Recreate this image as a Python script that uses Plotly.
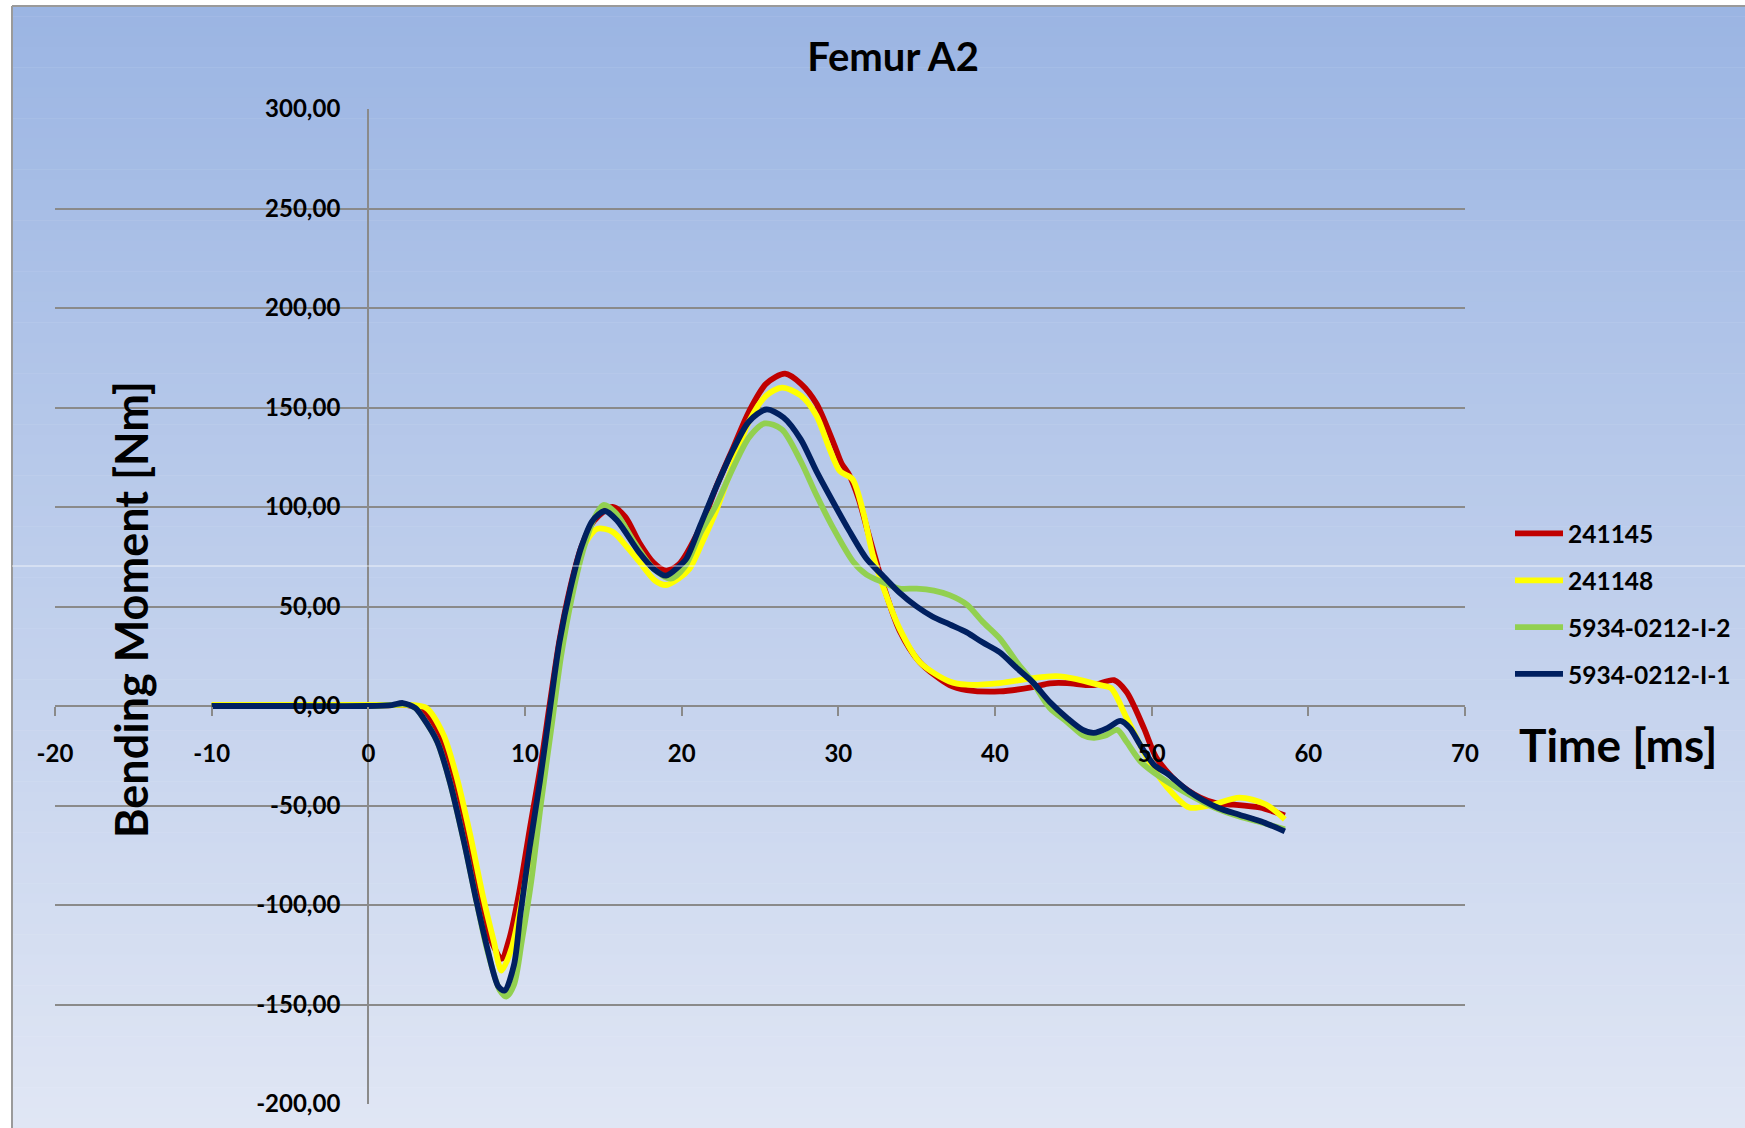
import plotly.graph_objects as go

# ---------------- data ----------------
series_names = ["241145", "241148", "5934-0212-I-2", "5934-0212-I-1"]
series_colors = ["#C00000", "#FFFF00", "#92D050", "#002060"]

t_241145 = [-10, -5, 0, 1.5, 2.5, 3.5, 4.6, 5.4, 6.3, 7.1, 7.8, 8.5, 9.0, 9.6, 10.3, 11.0, 11.6,
            12.2, 12.9, 13.6, 14.4, 15.6, 16.4, 17.3, 18.2, 19.0, 19.8, 21.2, 22.2, 23.3, 24.3,
            25.4, 26.6, 27.6, 28.6, 29.7, 30.2, 30.7, 31.3, 31.8, 32.3, 32.9, 33.9, 35.2, 37.1,
            38.2, 40.3, 42.4, 43.5, 44.6, 46.3, 47.6, 48.4, 49.5, 50.3, 51.6, 53.1, 54.2, 55.2,
            56.9, 58.5]
m_241145 = [0, 0, 0, 0.5, 0.5, -2, -15, -35, -66, -97, -117, -127, -117, -95, -62, -30, 2,
            33, 60, 80, 93, 100, 95, 82, 72, 68, 71, 90, 110, 130, 148,
            162, 167, 162, 152, 132, 122, 116, 104, 90, 76, 60, 38, 22, 10.5,
            8, 7.3, 9.5, 11.4, 11.5, 10.5, 13, 7, -11, -26, -38, -46, -49, -49.5,
            -51, -55]

t_241148 = [-10, -5, 0, 1.5, 2.7, 3.7, 4.8, 5.6, 6.5, 7.3, 8.0, 8.5, 9.15, 9.9, 10.7, 11.4,
            12.1, 12.8, 13.6, 14.6, 15.6, 16.5, 17.3, 18.3, 19.0, 19.8, 20.5, 21.3, 22.2, 23.3,
            24.3, 25.4, 26.4, 27.6, 28.6, 29.4, 30.1, 30.9, 31.6, 32.2, 32.9, 33.9, 35.2, 37.1,
            38.2, 40.3, 42.4, 43.9, 45.2, 46.7, 47.4, 48.4, 49.7, 51.0, 52.4, 53.7, 55.6, 57.3,
            58.5]
m_241148 = [0.5, 0.5, 0.5, 0.5, 0.5, -1, -14.5, -34.6, -64.7, -95, -118, -133, -121.5, -93, -54.6, -15,
            22, 52, 78, 89, 87.5, 80, 72.5, 63, 60.8, 64, 69, 82, 98, 122,
            143, 156, 160, 156, 146, 130, 118, 114, 97, 76, 59, 39, 22, 12.3,
            10.7, 11.5, 14, 15, 13.5, 10.5, 9, -6, -26, -41, -51, -50, -46, -49.5,
            -57]

t_5934_I2 = [-10, -5, 0, 1.5, 2.3, 3.0, 3.5, 4.4, 5.2, 6.1, 6.9, 7.6, 8.4, 8.8, 9.3, 9.8, 10.4,
             11.0, 11.7, 12.3, 13.0, 13.7, 14.4, 15.0, 15.8, 17.0, 18.2, 19.3, 20.2, 21.2, 22.2,
             23.3, 24.3, 25.3, 26.4, 27.6, 28.6, 29.7, 30.95, 31.8, 32.9, 33.9, 35.0, 36.1, 37.1,
             38.2, 39.2, 40.3, 41.4, 42.4, 43.5, 44.6, 45.6, 46.3, 47.0, 47.8, 48.4, 49.3, 50.6,
             52.4, 54.0, 55.6, 57.0, 58.5]
m_5934_I2 = [0, 0, 0, 0.5, 1, -1, -6, -18, -38, -68, -98, -123, -143, -146, -140, -118, -88,
             -50, -10, 25, 55, 78, 94, 101, 97, 82, 69, 64, 70, 87, 101,
             120, 135, 142, 139, 123, 106, 89, 72.5, 66, 62, 59, 59, 58, 55.7,
             51, 42.4, 34, 22, 12, -1, -8, -14.6, -16, -15, -12, -18, -28, -36,
             -44.6, -51, -55.5, -58.5, -62]

t_5934_I1 = [-10, -5, 0, 1.5, 2.2, 3.0, 3.5, 4.4, 5.2, 6.1, 6.9, 7.6, 8.3, 8.7, 9.3, 9.7, 10.3,
             10.95, 11.6, 12.2, 12.9, 13.6, 14.3, 15.1, 15.9, 17.3, 18.2, 19.0, 19.8, 20.3, 21.2,
             22.2, 23.3, 24.3, 25.4, 26.5, 27.6, 28.6, 29.7, 30.7, 31.8, 32.9, 33.9, 35.0, 36.0,
             37.1, 38.2, 39.2, 40.3, 41.4, 42.4, 43.5, 44.6, 45.6, 46.3, 47.2, 48.0, 48.6, 49.3,
             50.2, 51.0, 52.4, 54.2, 55.6, 57.0, 58.5]
m_5934_I1 = [0, 0, 0, 0.5, 1.5, -1, -6, -18, -38, -68, -98, -122, -141, -143, -130, -105, -71,
             -38, -1, 32, 59, 80, 93, 98, 93, 77, 69, 65.5, 70, 74, 91,
             110, 129, 143, 149, 145, 134, 118, 102, 88, 74, 65, 57, 50, 45,
             41, 37, 32, 27, 19, 12, 2, -6, -12, -13.5, -11, -7.5, -11, -20,
             -30, -34, -43, -51, -54.6, -58, -63]

x_tick_vals = [-20, -10, 0, 10, 20, 30, 40, 50, 60, 70]
x_tick_text = ["-20", "-10", "0", "10", "20", "30", "40", "50", "60", "70"]
y_tick_vals = [-200, -150, -100, -50, 0, 50, 100, 150, 200, 250, 300]
y_tick_text = ["-200,00", "-150,00", "-100,00", "-50,00", "0,00", "50,00",
               "100,00", "150,00", "200,00", "250,00", "300,00"]

title_text = "Femur A2"
y_title = "Bending Moment [Nm]"
x_title = "Time [ms]"

# ---------------- layout geometry ----------------
W, H = 1745, 1128
ML, MR, MT, MB = 55, 280, 109, 24
PW, PH = W - ML - MR, H - MT - MB
X_RANGE = [-20, 70]
Y_RANGE = [-200, 300]


def px_to_paper_x(px):
    return (px - ML) / PW


def px_to_paper_y(py):
    return (H - MB - py) / PH


FONT = "Lato"
GRID = "#8a8a8a"

fig = go.Figure()

all_t = [t_241145, t_241148, t_5934_I2, t_5934_I1]
all_m = [m_241145, m_241148, m_5934_I2, m_5934_I1]
for i, (name, color) in enumerate(zip(series_names, series_colors)):
    fig.add_trace(go.Scatter(
        x=all_t[i], y=all_m[i], name=name, mode="lines",
        line=dict(color=color, width=5.8, shape="spline", smoothing=0.8),
        legendgroup=name,
    ))

# background gradient (chart area), drawn as thin bands
top_c = (155, 181, 227)
bot_c = (224, 230, 244)
y_top_px, y_bot_px = 6, H
n_bands = 110
shapes = []
for k in range(n_bands):
    f = k / (n_bands - 1)
    c = tuple(round(top_c[j] + (bot_c[j] - top_c[j]) * f) for j in range(3))
    y0 = y_top_px + (y_bot_px - y_top_px) * k / n_bands
    y1 = y_top_px + (y_bot_px - y_top_px) * (k + 1) / n_bands + 0.6
    shapes.append(dict(type="rect", xref="paper", yref="paper", layer="below",
                       x0=px_to_paper_x(12), x1=px_to_paper_x(W + 2),
                       y0=px_to_paper_y(y1), y1=px_to_paper_y(y0),
                       fillcolor="rgb(%d,%d,%d)" % c, line=dict(width=0)))
# chart border (left & top)
shapes.append(dict(type="line", xref="paper", yref="paper", layer="below",
                   x0=px_to_paper_x(12), x1=px_to_paper_x(12),
                   y0=px_to_paper_y(H + 2), y1=px_to_paper_y(6),
                   line=dict(color="#9a9a9a", width=2)))
shapes.append(dict(type="line", xref="paper", yref="paper", layer="below",
                   x0=px_to_paper_x(12), x1=px_to_paper_x(W + 2),
                   y0=px_to_paper_y(6), y1=px_to_paper_y(6),
                   line=dict(color="#9a9a9a", width=2)))
# faint white seam across the picture
shapes.append(dict(type="line", xref="paper", yref="paper", layer="above",
                   x0=px_to_paper_x(12), x1=px_to_paper_x(W + 2),
                   y0=px_to_paper_y(566), y1=px_to_paper_y(566),
                   line=dict(color="rgba(255,255,255,0.75)", width=1)))

zero_x_frac = (0 - X_RANGE[0]) / (X_RANGE[1] - X_RANGE[0])
zero_y_frac = (0 - Y_RANGE[0]) / (Y_RANGE[1] - Y_RANGE[0])

fig.update_layout(
    width=W, height=H,
    margin=dict(l=ML, r=MR, t=MT, b=MB, autoexpand=False),
    paper_bgcolor="white",
    plot_bgcolor="rgba(0,0,0,0)",
    shapes=shapes,
    title=dict(text=title_text, x=893 / W, y=1 - 57 / H, xanchor="center", yanchor="middle",
               font=dict(family=FONT, size=40, color="black", weight="bold")),
    xaxis=dict(range=X_RANGE, anchor="free", position=zero_y_frac,
               tickvals=x_tick_vals, ticktext=x_tick_text,
               ticks="outside", ticklen=9, tickwidth=2, tickcolor=GRID,
               ticklabelstandoff=17,
               showgrid=False, zeroline=True, zerolinecolor=GRID, zerolinewidth=2,
               showline=False, automargin=False,
               tickfont=dict(family=FONT, size=24, color="black", weight="bold")),
    yaxis=dict(range=Y_RANGE, anchor="free", position=zero_x_frac,
               tickvals=y_tick_vals, ticktext=y_tick_text,
               ticks="", ticklabelstandoff=28,
               showgrid=True, gridcolor=GRID, gridwidth=2,
               zeroline=True, zerolinecolor=GRID, zerolinewidth=2,
               showline=False, automargin=False,
               tickfont=dict(family=FONT, size=24, color="black", weight="bold")),
    legend=dict(x=px_to_paper_x(1510), y=px_to_paper_y(511), xanchor="left", yanchor="top",
                bgcolor="rgba(0,0,0,0)", borderwidth=0, itemwidth=48,
                tracegroupgap=12,
                font=dict(family=FONT, size=24.5, color="black", weight="bold")),
    annotations=[
        dict(text=y_title, xref="paper", yref="paper",
             x=px_to_paper_x(131), y=px_to_paper_y(610), textangle=-90,
             showarrow=False, xanchor="center", yanchor="middle",
             font=dict(family=FONT, size=45, color="black", weight="bold")),
        dict(text=x_title, xref="paper", yref="paper",
             x=px_to_paper_x(1618), y=px_to_paper_y(744),
             showarrow=False, xanchor="center", yanchor="middle",
             font=dict(family=FONT, size=46, color="black", weight="bold")),
    ],
    showlegend=True,
)

fig.write_html("out.html", config={"displayModeBar": False},
               post_script="document.body.style.margin='0px';")
